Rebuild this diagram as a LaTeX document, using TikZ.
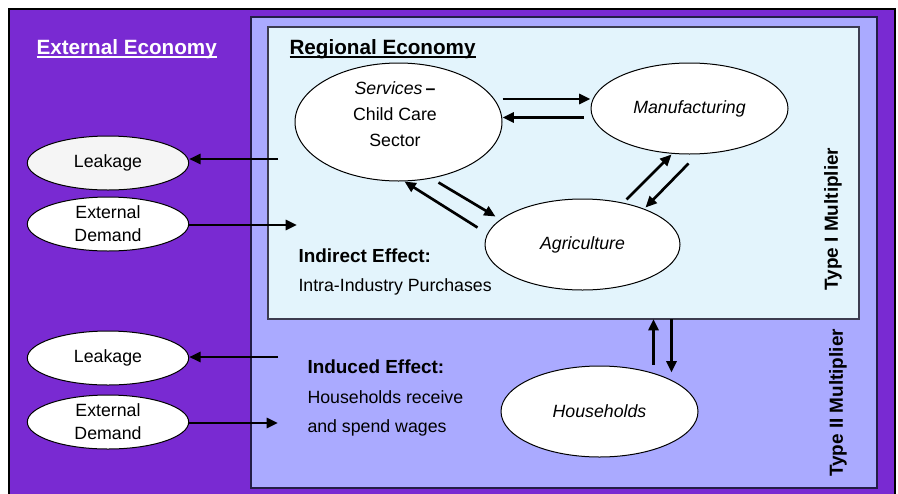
\documentclass[tikz,border=0pt]{standalone}
\usepackage{fontspec}
\setmainfont{Liberation Sans}
\usetikzlibrary{arrows.meta,calc,shapes.geometric}

\definecolor{extpurple}{RGB}{121,42,210}
\definecolor{indlav}{RGB}{170,170,255}
\definecolor{regblue}{RGB}{227,244,252}
\definecolor{leakgray}{RGB}{245,245,245}

% thick underline for the two titles
\newcommand{\titleul}[1]{\sbox0{#1}\rlap{\usebox0}\rule[-3.3pt]{\wd0}{1.5pt}}

\tikzset{every picture/.style={line width=0.75pt}}
\tikzset{
  areabox/.style={draw, anchor=north west, inner sep=0pt, outer sep=0pt},
  sector/.style={ellipse, draw, fill=white, inner sep=0pt, align=center,
    font=\fontsize{13.3}{17.25}\selectfont},
  plain/.style={inner sep=0pt, font=\fontsize{13.3}{19.5}\selectfont},
  bold/.style={inner sep=0pt, font=\bfseries\fontsize{14.2}{17}\selectfont},
  arr/.style={line width=2pt, -{Triangle[length=8.5pt,width=7.5pt]}},
}

\begin{document}
\begin{tikzpicture}[x=0.75pt,y=0.75pt,yscale=-1,xscale=1]
\useasboundingbox (0,0) rectangle (898,493);

%Shape: Rectangle [external economy]
\node[areabox, fill=extpurple, line width=1.5pt, minimum width=664.5pt, minimum height=372pt] (ext) at (9,9) {};
%Shape: Rectangle [type II area]
\node[areabox, fill=indlav, draw={rgb,255:red,35;green,30;blue,70}, line width=1.3pt, minimum width=469.5pt, minimum height=353.25pt] (ind) at (251,17) {};
%Shape: Rectangle [regional economy]
\node[areabox, fill=regblue, draw={rgb,255:red,60;green,60;blue,80}, line width=1.1pt, minimum width=443.25pt, minimum height=219pt] (reg) at (268,27) {};

% Text Node
\node[anchor=base west, text=white, inner sep=0pt, font=\bfseries\fontsize{15.5}{18}\selectfont] (exttitle) at (36,54) {\titleul{External Economy}};
% Text Node
\node[anchor=base west, inner sep=0pt, font=\bfseries\fontsize{15.5}{18}\selectfont] (regtitle) at (289,54) {\titleul{Regional Economy}};

%Shape: Ellipse [sectors]
\node[sector, minimum width=155.25pt, minimum height=88.5pt] (serv) at (398.5,122) {};
\node[plain, align=center] (servtxt) at (395,114) {\textit{Services}\,\textbf{–}\\Child Care\\Sector};
\node[sector, minimum width=147.75pt, minimum height=68.25pt] (manu) at (689.5,108.5) {\textit{Manufacturing}};
\node[sector, minimum width=146.25pt, minimum height=68.25pt] (agri) at (582.5,244.5) {\textit{Agriculture}};
\node[sector, minimum width=147.75pt, minimum height=68.25pt] (hh) at (599.5,411.5) {\textit{Households}};

%Shape: Ellipse [external]
\node[sector, fill=leakgray, minimum width=121pt, minimum height=40.5pt] (leak1) at (108,163) {Leakage};
\node[sector, minimum width=121pt, minimum height=40.5pt] (ed1) at (108,224) {External\\Demand};
\node[sector, minimum width=121pt, minimum height=40.5pt] (leak2) at (108,358) {Leakage};
\node[sector, minimum width=121pt, minimum height=40.5pt] (ed2) at (108,422) {External\\Demand};

% Text Node
\node[bold, anchor=base west] (indirect) at (298,262) {Indirect Effect:};
\node[plain, anchor=base west] (intra) at (298,291) {Intra-Industry Purchases};
\node[bold, anchor=base west] (induced) at (307,373) {Induced Effect:};
\node[plain, anchor=base west] (hhrec) at (307,403) {Households receive};
\node[plain, anchor=base west] (hhspend) at (307,432) {and spend wages};
\node[bold, rotate=90] (type1) at (833,219) {Type I Multiplier};
\node[bold, rotate=90] (type2) at (838,403) {Type II Multiplier};

% free ends
\coordinate (lk1src) at (278,159);
\coordinate (dem1in) at (297,225);
\coordinate (lk2src) at (278,357);
\coordinate (dem2in) at (278,423);
\coordinate (hhup) at ($(hh.north)+(54,-1)$);
\coordinate (hhdn) at ($(hh.north)+(72,7)$);

%Straight Lines [external]
\draw[arr] (lk1src) -- (lk1src -| leak1.east);
\draw[arr] (ed1.east |- dem1in) -- (dem1in);
\draw[arr] (lk2src) -- (lk2src -| leak2.east);
\draw[arr] (ed2.east |- dem2in) -- (dem2in);

%Straight Lines [services - manufacturing]
\draw[arr] ($(serv.east)+(0,-23)$) -- ($(manu.west)+(0,-9.5)$);
\draw[arr] ($(manu.west)+(-7,9)$) -- ($(serv.east)+(0,-4.5)$);
%Straight Lines [services - agriculture]
\draw[arr] ($(agri.west)+(-7,-17)$) -- ($(serv.south)+(6,0)$);
\draw[arr] ($(serv.south)+(40,1)$) -- ($(agri.west)+(11,-28)$);
%Straight Lines [agriculture - manufacturing]
\draw[arr] ($(agri.north)+(44,1)$) -- ($(manu.south)+(-18,0)$);
\draw[arr] ($(manu.south)+(-1,9)$) -- ($(agri.north)+(63,9)$);
%Straight Lines [households - region]
\draw[arr] (hhup) -- (hhup |- reg.south);
\draw[arr] (hhdn |- reg.south) -- (hhdn);

\end{tikzpicture}
\end{document}
